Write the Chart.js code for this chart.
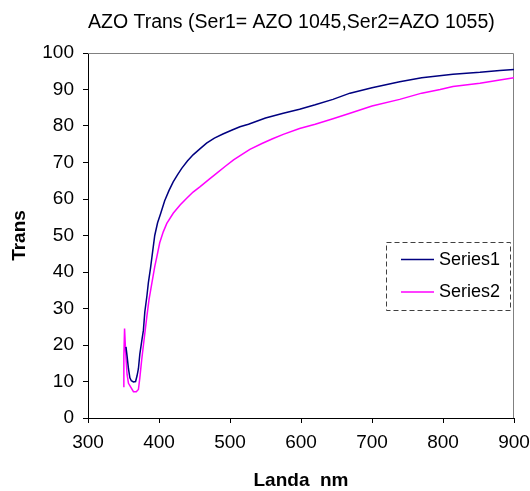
<!DOCTYPE html>
<html>
<head>
<meta charset="utf-8">
<script src="https://cdn.jsdelivr.net/npm/chart.js@4/dist/chart.umd.min.js"></script>
<style>
html,body{margin:0;padding:0;background:#fff;}
canvas{display:block;}
</style>
</head>
<body>
<canvas id="c" width="530" height="491"></canvas>
<script>
const chartTitle = "AZO Trans (Ser1= AZO 1045,Ser2=AZO 1055)";
const xTitle = "Landa  nm";
const yTitle = "Trans";
const seriesNames = ["Series1", "Series2"];

const s1X = [353.5,355,357,359,361,364,367,369,371,373,376,378,380,383,385,388,390,394,398,402,408,414,420,426,432,440,448,458,467,478,490,503,514,526,550,575,598,620,645,669,700,739,770,814,852,880,900];
const s1Y = [19.5,17,13.5,11,10.2,9.9,10,11.5,13.5,17.5,21.5,24,29,33.5,37,41,44,50,53.5,55.8,59.5,62.3,64.7,66.6,68.4,70.4,72.1,73.8,75.3,76.7,77.8,78.9,79.8,80.5,82.2,83.5,84.6,85.8,87.3,89,90.5,92.1,93.2,94.2,94.7,95.2,95.5];

const s2X = [349.5,350.5,351.5,353,355,357,360,364,368,371,373,375.6,379,383,386,390,394,397,401,406,411,420,430,439,448,458,470,481,493,505,517,528,545,560,575,598,620,645,669,700,739,770,796,814,852,880,900];
const s2Y = [8.6,17,24.5,18,12,9.5,8.5,7.2,7.2,7.8,11,15.9,21.5,28,32.5,37,41.5,44.2,48,51,53.3,56.1,58.4,60.2,61.9,63.4,65.3,67,68.9,70.7,72.2,73.6,75.2,76.5,77.7,79.3,80.5,82,83.5,85.5,87.3,89,90,90.8,91.7,92.6,93.2];

const xTicks = {min:300, max:900, step:100};
const yTicks = {min:0, max:100, step:10};

const colors = ["#000080", "#FF00FF"];
const FONT = "'Liberation Sans', Arial, sans-serif";

function pts(xs, ys){ return xs.map((x,i)=>({x:x, y:ys[i]})); }

const frame = {
  id:'frame',
  beforeDatasetsDraw(chart){
    const {ctx, chartArea:a} = chart;
    ctx.save();
    ctx.strokeStyle = '#808080';
    ctx.lineWidth = 1;
    ctx.beginPath();
    ctx.moveTo(a.left, a.top+0.5);
    ctx.lineTo(a.right-0.5, a.top+0.5);
    ctx.lineTo(a.right-0.5, a.bottom);
    ctx.stroke();
    ctx.restore();
  }
};

const boxLegend = {
  id:'boxLegend',
  afterDraw(chart){
    const ctx = chart.ctx;
    const L = 386, T = 242, R = 510, B = 310;
    ctx.save();
    ctx.strokeStyle = '#404040';
    ctx.lineWidth = 1;
    ctx.setLineDash([5,3]);
    ctx.strokeRect(L+0.5, T+0.5, R-L, B-T);
    ctx.setLineDash([]);
    ctx.font = "18px " + FONT;
    ctx.textBaseline = 'middle';
    ctx.fillStyle = '#000';
    chart.data.datasets.forEach((ds,i)=>{
      const y = 259 + i*32.5;
      ctx.strokeStyle = ds.borderColor;
      ctx.lineWidth = 1.5;
      ctx.beginPath();
      ctx.moveTo(401, y+0.5);
      ctx.lineTo(434, y+0.5);
      ctx.stroke();
      ctx.fillText(ds.label, 439, y+1);
    });
    ctx.restore();
  }
};

new Chart(document.getElementById('c'), {
  type:'line',
  data:{
    datasets:[
      {label:seriesNames[0], data:pts(s1X,s1Y), borderColor:colors[0], backgroundColor:colors[0], borderWidth:1.5, pointRadius:0, tension:0, fill:false},
      {label:seriesNames[1], data:pts(s2X,s2Y), borderColor:colors[1], backgroundColor:colors[1], borderWidth:1.5, pointRadius:0, tension:0, fill:false}
    ]
  },
  options:{
    responsive:false,
    animation:false,
    devicePixelRatio:1,
    layout:{padding:{left:0,right:16,top:0,bottom:0}},
    plugins:{
      legend:{display:false},
      tooltip:{enabled:false},
      title:{
        display:true, text:chartTitle, fullSize:false, align:'start',
        color:'#000', font:{family:FONT, size:19.5, weight:'normal', lineHeight:1.2},
        padding:{top:11, bottom:18.6}
      }
    },
    scales:{
      x:{
        type:'linear', min:xTicks.min, max:xTicks.max,
        ticks:{stepSize:xTicks.step, color:'#000', font:{family:FONT, size:19}, padding:8, maxRotation:0, autoSkip:false},
        grid:{display:true, drawOnChartArea:false, drawTicks:true, tickLength:5, color:'#000'},
        border:{display:true, color:'#000', width:1},
        title:{display:true, text:xTitle, color:'#000', font:{family:FONT, size:19, weight:'bold', lineHeight:1}, padding:{top:0,bottom:0.5}},
        afterFit(s){ s.height = 73; s.paddingLeft = 0; s.paddingRight = 0; }
      },
      y:{
        min:yTicks.min, max:yTicks.max,
        ticks:{stepSize:yTicks.step, color:'#000', font:{family:FONT, size:19}, padding:9},
        grid:{display:true, drawOnChartArea:false, drawTicks:true, tickLength:5, color:'#000'},
        border:{display:true, color:'#000', width:1},
        title:{display:true, text:yTitle, color:'#000', font:{family:FONT, size:19, weight:'bold', lineHeight:1}, padding:{top:10.5,bottom:0}},
        afterFit(s){ s.width = 88; s.paddingTop = 0; s.paddingBottom = 0; }
      }
    }
  },
  plugins:[frame, boxLegend]
});
</script>
</body>
</html>
